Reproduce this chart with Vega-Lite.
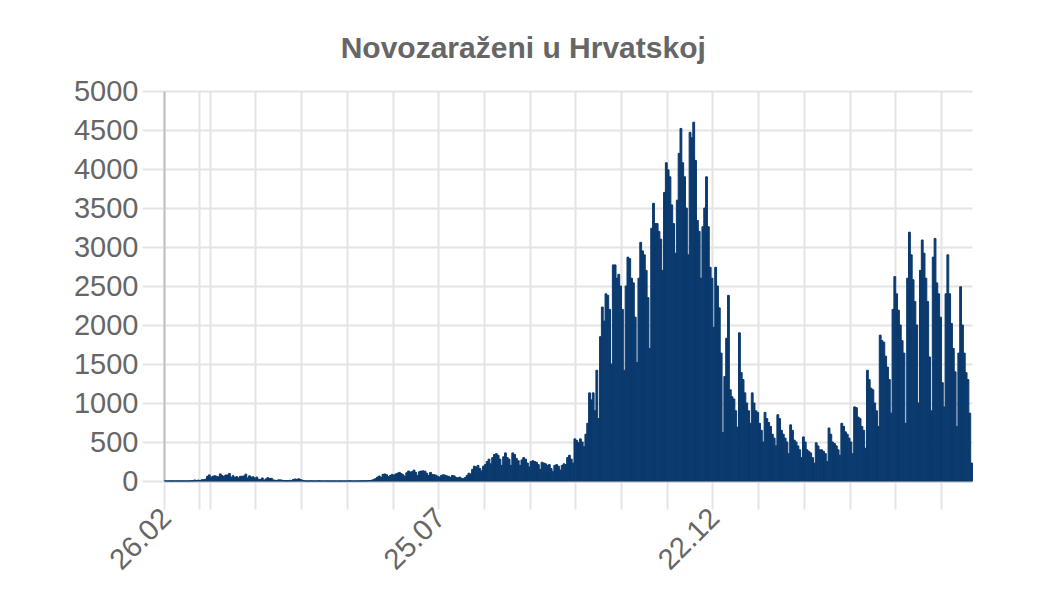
{
  "$schema": "https://vega.github.io/schema/vega-lite/v6.json",
  "width": 808,
  "height": 390,
  "autosize": {"type": "none"},
  "padding": {"left": 164, "top": 91, "right": 88, "bottom": 119},
  "background": "white",
  "title": {"text": "Novozaraženi u Hrvatskoj", "font": "Liberation Sans", "fontSize": 30, "fontWeight": "bold", "color": "#666666", "anchor": "middle", "frame": "bounds", "offset": 13},
  "data": {"values": [
{"d":"2020-02-26","v":2},{"d":"2020-02-27","v":0},{"d":"2020-02-28","v":1},{"d":"2020-02-29","v":1},
{"d":"2020-03-01","v":1},{"d":"2020-03-02","v":1},{"d":"2020-03-03","v":0},{"d":"2020-03-04","v":1},{"d":"2020-03-05","v":1},{"d":"2020-03-06","v":1},{"d":"2020-03-07","v":1},{"d":"2020-03-08","v":1},{"d":"2020-03-09","v":0},{"d":"2020-03-10","v":2},{"d":"2020-03-11","v":3},{"d":"2020-03-12","v":3},{"d":"2020-03-13","v":13},{"d":"2020-03-14","v":7},{"d":"2020-03-15","v":11},{"d":"2020-03-16","v":7},{"d":"2020-03-17","v":16},{"d":"2020-03-18","v":16},{"d":"2020-03-19","v":24},{"d":"2020-03-20","v":60},{"d":"2020-03-21","v":78},{"d":"2020-03-22","v":48},{"d":"2020-03-23","v":61},{"d":"2020-03-24","v":67},{"d":"2020-03-25","v":60},{"d":"2020-03-26","v":53},{"d":"2020-03-27","v":91},{"d":"2020-03-28","v":71},{"d":"2020-03-29","v":56},{"d":"2020-03-30","v":77},{"d":"2020-03-31","v":77},
{"d":"2020-04-01","v":96},{"d":"2020-04-02","v":48},{"d":"2020-04-03","v":68},{"d":"2020-04-04","v":47},{"d":"2020-04-05","v":56},{"d":"2020-04-06","v":40},{"d":"2020-04-07","v":60},{"d":"2020-04-08","v":61},{"d":"2020-04-09","v":64},{"d":"2020-04-10","v":88},{"d":"2020-04-11","v":39},{"d":"2020-04-12","v":66},{"d":"2020-04-13","v":50},{"d":"2020-04-14","v":54},{"d":"2020-04-15","v":37},{"d":"2020-04-16","v":50},{"d":"2020-04-17","v":23},{"d":"2020-04-18","v":18},{"d":"2020-04-19","v":39},{"d":"2020-04-20","v":10},{"d":"2020-04-21","v":27},{"d":"2020-04-22","v":42},{"d":"2020-04-23","v":31},{"d":"2020-04-24","v":35},{"d":"2020-04-25","v":14},{"d":"2020-04-26","v":9},{"d":"2020-04-27","v":8},{"d":"2020-04-28","v":15},{"d":"2020-04-29","v":14},{"d":"2020-04-30","v":9},
{"d":"2020-05-01","v":3},{"d":"2020-05-02","v":6},{"d":"2020-05-03","v":3},{"d":"2020-05-04","v":9},{"d":"2020-05-05","v":4},{"d":"2020-05-06","v":20},{"d":"2020-05-07","v":25},{"d":"2020-05-08","v":22},{"d":"2020-05-09","v":28},{"d":"2020-05-10","v":18},{"d":"2020-05-11","v":10},{"d":"2020-05-12","v":1},{"d":"2020-05-13","v":2},{"d":"2020-05-14","v":0},{"d":"2020-05-15","v":1},{"d":"2020-05-16","v":3},{"d":"2020-05-17","v":0},{"d":"2020-05-18","v":0},{"d":"2020-05-19","v":1},{"d":"2020-05-20","v":2},{"d":"2020-05-21","v":1},{"d":"2020-05-22","v":0},{"d":"2020-05-23","v":0},{"d":"2020-05-24","v":1},{"d":"2020-05-25","v":0},{"d":"2020-05-26","v":0},{"d":"2020-05-27","v":0},{"d":"2020-05-28","v":1},{"d":"2020-05-29","v":0},{"d":"2020-05-30","v":0},{"d":"2020-05-31","v":1},
{"d":"2020-06-01","v":0},{"d":"2020-06-02","v":0},{"d":"2020-06-03","v":0},{"d":"2020-06-04","v":0},{"d":"2020-06-05","v":1},{"d":"2020-06-06","v":2},{"d":"2020-06-07","v":0},{"d":"2020-06-08","v":0},{"d":"2020-06-09","v":1},{"d":"2020-06-10","v":0},{"d":"2020-06-11","v":1},{"d":"2020-06-12","v":2},{"d":"2020-06-13","v":1},{"d":"2020-06-14","v":3},{"d":"2020-06-15","v":2},{"d":"2020-06-16","v":4},{"d":"2020-06-17","v":7},{"d":"2020-06-18","v":10},{"d":"2020-06-19","v":20},{"d":"2020-06-20","v":30},{"d":"2020-06-21","v":50},{"d":"2020-06-22","v":64},{"d":"2020-06-23","v":45},{"d":"2020-06-24","v":85},{"d":"2020-06-25","v":90},{"d":"2020-06-26","v":80},{"d":"2020-06-27","v":55},{"d":"2020-06-28","v":70},{"d":"2020-06-29","v":85},{"d":"2020-06-30","v":75},
{"d":"2020-07-01","v":90},{"d":"2020-07-02","v":100},{"d":"2020-07-03","v":110},{"d":"2020-07-04","v":95},{"d":"2020-07-05","v":80},{"d":"2020-07-06","v":60},{"d":"2020-07-07","v":105},{"d":"2020-07-08","v":128},{"d":"2020-07-09","v":115},{"d":"2020-07-10","v":120},{"d":"2020-07-11","v":140},{"d":"2020-07-12","v":110},{"d":"2020-07-13","v":70},{"d":"2020-07-14","v":120},{"d":"2020-07-15","v":128},{"d":"2020-07-16","v":130},{"d":"2020-07-17","v":125},{"d":"2020-07-18","v":100},{"d":"2020-07-19","v":70},{"d":"2020-07-20","v":110},{"d":"2020-07-21","v":85},{"d":"2020-07-22","v":80},{"d":"2020-07-23","v":75},{"d":"2020-07-24","v":60},{"d":"2020-07-25","v":50},{"d":"2020-07-26","v":70},{"d":"2020-07-27","v":80},{"d":"2020-07-28","v":75},{"d":"2020-07-29","v":65},{"d":"2020-07-30","v":60},{"d":"2020-07-31","v":45},
{"d":"2020-08-01","v":70},{"d":"2020-08-02","v":65},{"d":"2020-08-03","v":45},{"d":"2020-08-04","v":40},{"d":"2020-08-05","v":50},{"d":"2020-08-06","v":35},{"d":"2020-08-07","v":30},{"d":"2020-08-08","v":45},{"d":"2020-08-09","v":70},{"d":"2020-08-10","v":100},{"d":"2020-08-11","v":90},{"d":"2020-08-12","v":150},{"d":"2020-08-13","v":190},{"d":"2020-08-14","v":180},{"d":"2020-08-15","v":200},{"d":"2020-08-16","v":160},{"d":"2020-08-17","v":130},{"d":"2020-08-18","v":190},{"d":"2020-08-19","v":210},{"d":"2020-08-20","v":250},{"d":"2020-08-21","v":280},{"d":"2020-08-22","v":220},{"d":"2020-08-23","v":300},{"d":"2020-08-24","v":340},{"d":"2020-08-25","v":350},{"d":"2020-08-26","v":330},{"d":"2020-08-27","v":280},{"d":"2020-08-28","v":200},{"d":"2020-08-29","v":310},{"d":"2020-08-30","v":360},{"d":"2020-08-31","v":300},
{"d":"2020-09-01","v":280},{"d":"2020-09-02","v":200},{"d":"2020-09-03","v":360},{"d":"2020-09-04","v":340},{"d":"2020-09-05","v":290},{"d":"2020-09-06","v":260},{"d":"2020-09-07","v":200},{"d":"2020-09-08","v":270},{"d":"2020-09-09","v":300},{"d":"2020-09-10","v":280},{"d":"2020-09-11","v":230},{"d":"2020-09-12","v":180},{"d":"2020-09-13","v":250},{"d":"2020-09-14","v":260},{"d":"2020-09-15","v":250},{"d":"2020-09-16","v":240},{"d":"2020-09-17","v":210},{"d":"2020-09-18","v":150},{"d":"2020-09-19","v":240},{"d":"2020-09-20","v":230},{"d":"2020-09-21","v":220},{"d":"2020-09-22","v":200},{"d":"2020-09-23","v":210},{"d":"2020-09-24","v":160},{"d":"2020-09-25","v":120},{"d":"2020-09-26","v":200},{"d":"2020-09-27","v":210},{"d":"2020-09-28","v":190},{"d":"2020-09-29","v":140},{"d":"2020-09-30","v":200},
{"d":"2020-10-01","v":220},{"d":"2020-10-02","v":210},{"d":"2020-10-03","v":300},{"d":"2020-10-04","v":330},{"d":"2020-10-05","v":280},{"d":"2020-10-06","v":230},{"d":"2020-10-07","v":540},{"d":"2020-10-08","v":520},{"d":"2020-10-09","v":490},{"d":"2020-10-10","v":540},{"d":"2020-10-11","v":500},{"d":"2020-10-12","v":440},{"d":"2020-10-13","v":600},{"d":"2020-10-14","v":740},{"d":"2020-10-15","v":1130},{"d":"2020-10-16","v":1040},{"d":"2020-10-17","v":1130},{"d":"2020-10-18","v":900},{"d":"2020-10-19","v":1420},{"d":"2020-10-20","v":800},{"d":"2020-10-21","v":1850},{"d":"2020-10-22","v":2230},{"d":"2020-10-23","v":2050},{"d":"2020-10-24","v":2400},{"d":"2020-10-25","v":2380},{"d":"2020-10-26","v":2200},{"d":"2020-10-27","v":1500},{"d":"2020-10-28","v":2770},{"d":"2020-10-29","v":2770},{"d":"2020-10-30","v":2600},{"d":"2020-10-31","v":2650},
{"d":"2020-11-01","v":2500},{"d":"2020-11-02","v":2200},{"d":"2020-11-03","v":1420},{"d":"2020-11-04","v":2500},{"d":"2020-11-05","v":2870},{"d":"2020-11-06","v":2850},{"d":"2020-11-07","v":2600},{"d":"2020-11-08","v":2540},{"d":"2020-11-09","v":2100},{"d":"2020-11-10","v":1520},{"d":"2020-11-11","v":2600},{"d":"2020-11-12","v":3060},{"d":"2020-11-13","v":2950},{"d":"2020-11-14","v":2900},{"d":"2020-11-15","v":2700},{"d":"2020-11-16","v":2350},{"d":"2020-11-17","v":1700},{"d":"2020-11-18","v":3240},{"d":"2020-11-19","v":3560},{"d":"2020-11-20","v":3300},{"d":"2020-11-21","v":3300},{"d":"2020-11-22","v":3200},{"d":"2020-11-23","v":3100},{"d":"2020-11-24","v":2700},{"d":"2020-11-25","v":3700},{"d":"2020-11-26","v":4080},{"d":"2020-11-27","v":3990},{"d":"2020-11-28","v":3900},{"d":"2020-11-29","v":3540},{"d":"2020-11-30","v":3300},
{"d":"2020-12-01","v":2920},{"d":"2020-12-02","v":3600},{"d":"2020-12-03","v":4200},{"d":"2020-12-04","v":4520},{"d":"2020-12-05","v":4080},{"d":"2020-12-06","v":3900},{"d":"2020-12-07","v":3500},{"d":"2020-12-08","v":2900},{"d":"2020-12-09","v":4470},{"d":"2020-12-10","v":4400},{"d":"2020-12-11","v":4600},{"d":"2020-12-12","v":4110},{"d":"2020-12-13","v":3340},{"d":"2020-12-14","v":3200},{"d":"2020-12-15","v":2600},{"d":"2020-12-16","v":3260},{"d":"2020-12-17","v":3500},{"d":"2020-12-18","v":3900},{"d":"2020-12-19","v":3260},{"d":"2020-12-20","v":2740},{"d":"2020-12-21","v":2600},{"d":"2020-12-22","v":1970},{"d":"2020-12-23","v":2740},{"d":"2020-12-24","v":2500},{"d":"2020-12-25","v":2220},{"d":"2020-12-26","v":1640},{"d":"2020-12-27","v":620},{"d":"2020-12-28","v":1340},{"d":"2020-12-29","v":1830},{"d":"2020-12-30","v":2380},{"d":"2020-12-31","v":1170},
{"d":"2021-01-01","v":1080},{"d":"2021-01-02","v":1050},{"d":"2021-01-03","v":900},{"d":"2021-01-04","v":690},{"d":"2021-01-05","v":1900},{"d":"2021-01-06","v":1390},{"d":"2021-01-07","v":1300},{"d":"2021-01-08","v":1130},{"d":"2021-01-09","v":1000},{"d":"2021-01-10","v":900},{"d":"2021-01-11","v":740},{"d":"2021-01-12","v":1130},{"d":"2021-01-13","v":1000},{"d":"2021-01-14","v":900},{"d":"2021-01-15","v":880},{"d":"2021-01-16","v":740},{"d":"2021-01-17","v":650},{"d":"2021-01-18","v":500},{"d":"2021-01-19","v":880},{"d":"2021-01-20","v":800},{"d":"2021-01-21","v":750},{"d":"2021-01-22","v":700},{"d":"2021-01-23","v":600},{"d":"2021-01-24","v":550},{"d":"2021-01-25","v":450},{"d":"2021-01-26","v":850},{"d":"2021-01-27","v":800},{"d":"2021-01-28","v":650},{"d":"2021-01-29","v":600},{"d":"2021-01-30","v":550},{"d":"2021-01-31","v":500},
{"d":"2021-02-01","v":350},{"d":"2021-02-02","v":720},{"d":"2021-02-03","v":650},{"d":"2021-02-04","v":525},{"d":"2021-02-05","v":500},{"d":"2021-02-06","v":450},{"d":"2021-02-07","v":400},{"d":"2021-02-08","v":300},{"d":"2021-02-09","v":565},{"d":"2021-02-10","v":500},{"d":"2021-02-11","v":400},{"d":"2021-02-12","v":380},{"d":"2021-02-13","v":360},{"d":"2021-02-14","v":300},{"d":"2021-02-15","v":230},{"d":"2021-02-16","v":490},{"d":"2021-02-17","v":450},{"d":"2021-02-18","v":400},{"d":"2021-02-19","v":400},{"d":"2021-02-20","v":380},{"d":"2021-02-21","v":350},{"d":"2021-02-22","v":250},{"d":"2021-02-23","v":680},{"d":"2021-02-24","v":600},{"d":"2021-02-25","v":500},{"d":"2021-02-26","v":480},{"d":"2021-02-27","v":450},{"d":"2021-02-28","v":400},
{"d":"2021-03-01","v":330},{"d":"2021-03-02","v":740},{"d":"2021-03-03","v":700},{"d":"2021-03-04","v":630},{"d":"2021-03-05","v":600},{"d":"2021-03-06","v":550},{"d":"2021-03-07","v":500},{"d":"2021-03-08","v":350},{"d":"2021-03-09","v":950},{"d":"2021-03-10","v":940},{"d":"2021-03-11","v":820},{"d":"2021-03-12","v":800},{"d":"2021-03-13","v":700},{"d":"2021-03-14","v":650},{"d":"2021-03-15","v":420},{"d":"2021-03-16","v":1420},{"d":"2021-03-17","v":1300},{"d":"2021-03-18","v":1190},{"d":"2021-03-19","v":1170},{"d":"2021-03-20","v":1000},{"d":"2021-03-21","v":900},{"d":"2021-03-22","v":700},{"d":"2021-03-23","v":1870},{"d":"2021-03-24","v":1800},{"d":"2021-03-25","v":1780},{"d":"2021-03-26","v":1600},{"d":"2021-03-27","v":1460},{"d":"2021-03-28","v":1300},{"d":"2021-03-29","v":870},{"d":"2021-03-30","v":2200},{"d":"2021-03-31","v":2620},
{"d":"2021-04-01","v":2400},{"d":"2021-04-02","v":2190},{"d":"2021-04-03","v":2000},{"d":"2021-04-04","v":1800},{"d":"2021-04-05","v":1640},{"d":"2021-04-06","v":740},{"d":"2021-04-07","v":2600},{"d":"2021-04-08","v":3190},{"d":"2021-04-09","v":2900},{"d":"2021-04-10","v":2580},{"d":"2021-04-11","v":2300},{"d":"2021-04-12","v":2000},{"d":"2021-04-13","v":1000},{"d":"2021-04-14","v":2700},{"d":"2021-04-15","v":3090},{"d":"2021-04-16","v":2920},{"d":"2021-04-17","v":2600},{"d":"2021-04-18","v":2300},{"d":"2021-04-19","v":1590},{"d":"2021-04-20","v":900},{"d":"2021-04-21","v":2870},{"d":"2021-04-22","v":3110},{"d":"2021-04-23","v":2540},{"d":"2021-04-24","v":2400},{"d":"2021-04-25","v":2100},{"d":"2021-04-26","v":1260},{"d":"2021-04-27","v":950},{"d":"2021-04-28","v":2400},{"d":"2021-04-29","v":2900},{"d":"2021-04-30","v":2400},
{"d":"2021-05-01","v":2020},{"d":"2021-05-02","v":1700},{"d":"2021-05-03","v":1400},{"d":"2021-05-04","v":700},{"d":"2021-05-05","v":1640},{"d":"2021-05-06","v":2490},{"d":"2021-05-07","v":2000},{"d":"2021-05-08","v":1640},{"d":"2021-05-09","v":1390},{"d":"2021-05-10","v":1300},{"d":"2021-05-11","v":870},{"d":"2021-05-12","v":230}
  ]},
  "mark": {"type": "bar", "color": "#0b3a6e", "stroke": "#0b3a6e", "strokeWidth": 1, "binSpacing": 0},
  "encoding": {
    "x": {
      "field": "d", "timeUnit": "utcyearmonthdate", "type": "temporal",
      "scale": {"domain": [{"year": 2020, "month": 2, "date": 26, "utc": true}, {"year": 2021, "month": 5, "date": 13, "utc": true}], "nice": false},
      "axis": {
        "title": null,
        "values": [
          {"year": 2020, "month": 2, "date": 26, "utc": true},
          {"year": 2020, "month": 3, "date": 16, "utc": true},
          {"year": 2020, "month": 3, "date": 22, "utc": true},
          {"year": 2020, "month": 4, "date": 16, "utc": true},
          {"year": 2020, "month": 5, "date": 11, "utc": true},
          {"year": 2020, "month": 6, "date": 5, "utc": true},
          {"year": 2020, "month": 6, "date": 30, "utc": true},
          {"year": 2020, "month": 7, "date": 25, "utc": true},
          {"year": 2020, "month": 8, "date": 19, "utc": true},
          {"year": 2020, "month": 9, "date": 13, "utc": true},
          {"year": 2020, "month": 10, "date": 8, "utc": true},
          {"year": 2020, "month": 11, "date": 2, "utc": true},
          {"year": 2020, "month": 11, "date": 27, "utc": true},
          {"year": 2020, "month": 12, "date": 22, "utc": true},
          {"year": 2021, "month": 1, "date": 16, "utc": true},
          {"year": 2021, "month": 2, "date": 10, "utc": true},
          {"year": 2021, "month": 3, "date": 7, "utc": true},
          {"year": 2021, "month": 4, "date": 1, "utc": true},
          {"year": 2021, "month": 4, "date": 26, "utc": true}
        ],
        "labelExpr": "indexof(['26.02','25.07','22.12'], utcFormat(datum.value, '%d.%m')) >= 0 ? utcFormat(datum.value, '%d.%m') : ''",
        "labelAngle": -45,
        "labelAlign": "right",
        "labelBaseline": "middle",
        "labelFont": "Liberation Sans",
        "labelFontSize": 29,
        "labelColor": "#666666",
        "labelPadding": 4,
        "labelOffset": 2,
        "labelOverlap": false,
        "labelFlush": false,
        "labelBound": false,
        "tickSize": 28,
        "tickColor": "#e4e4e4",
        "tickWidth": 2,
        "grid": true,
        "gridColor": "#e4e4e4",
        "gridWidth": 2,
        "domainColor": "#bfbfbf",
        "domainWidth": 2
      }
    },
    "y": {
      "field": "v", "type": "quantitative",
      "scale": {"domain": [0, 5000], "nice": false},
      "axis": {
        "title": null,
        "format": "d",
        "values": [0, 500, 1000, 1500, 2000, 2500, 3000, 3500, 4000, 4500, 5000],
        "labelFont": "Liberation Sans",
        "labelFontSize": 29,
        "labelColor": "#666666",
        "labelPadding": 4,
        "labelOverlap": false,
        "tickSize": 22,
        "tickColor": "#e4e4e4",
        "tickWidth": 2,
        "grid": true,
        "gridColor": "#e4e4e4",
        "gridWidth": 2,
        "domainColor": "#bfbfbf",
        "domainWidth": 2
      }
    }
  },
  "config": {"view": {"stroke": null}}
}
